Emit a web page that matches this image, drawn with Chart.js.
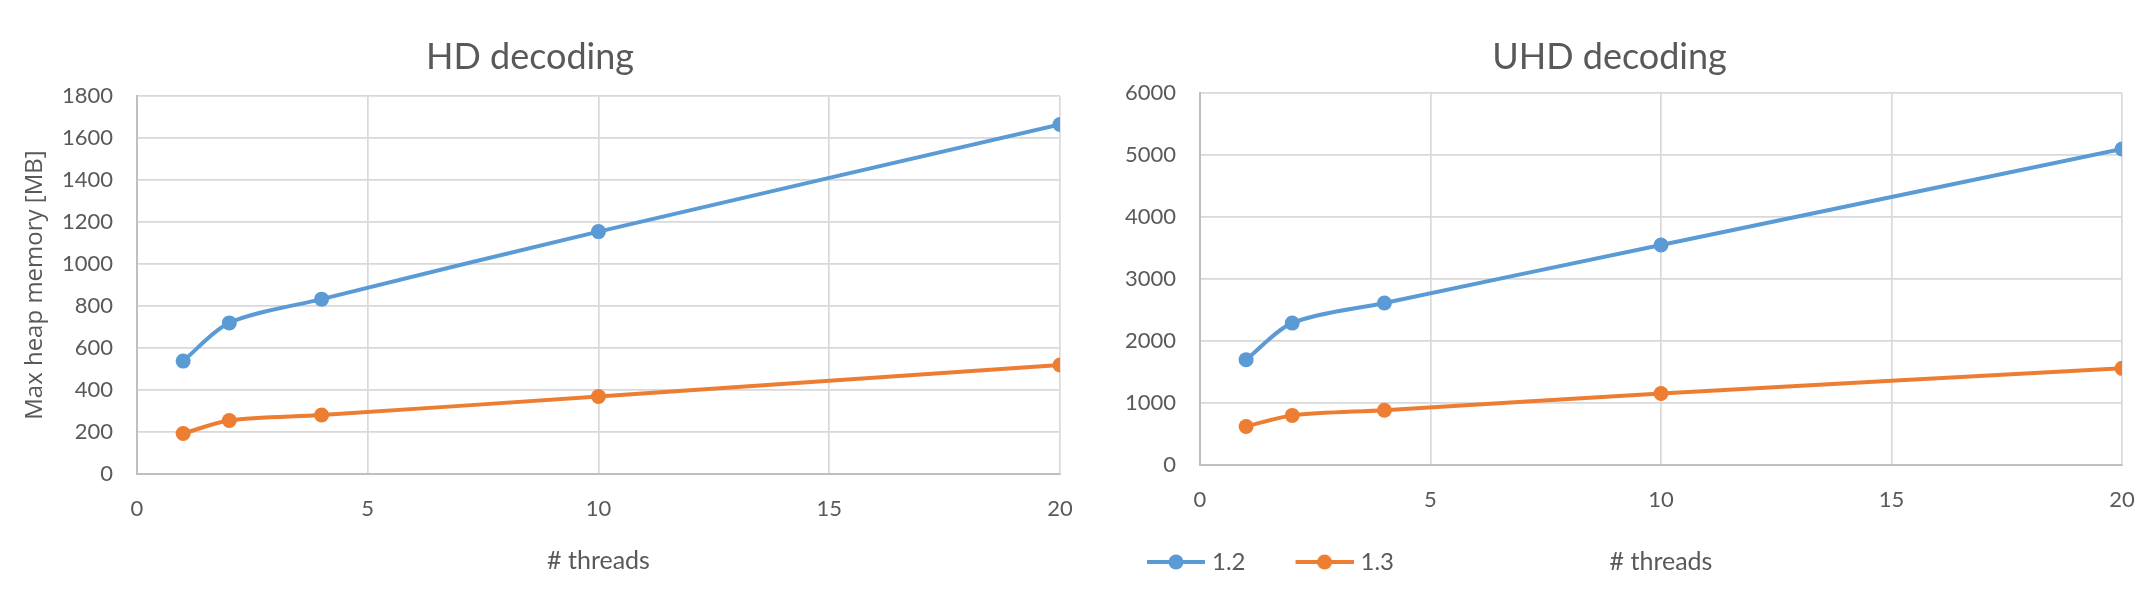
<!DOCTYPE html>
<html>
<head>
<meta charset="utf-8">
<script src="https://cdn.jsdelivr.net/npm/chart.js@4"></script>
<style>
  body { margin: 0; background: #fff; width: 2156px; height: 602px; overflow: hidden; position: relative; }
  canvas { position: absolute; top: 0; }
</style>
</head>
<body>
<canvas id="hdChart" width="1078" height="602" style="left:0"></canvas>
<canvas id="uhdChart" width="1078" height="602" style="left:1078px"></canvas>
<script>
const threads = [1, 2, 4, 10, 20];
const seriesNames = ['1.2', '1.3'];
const hd12 = [538, 720, 833, 1155, 1665];
const hd13 = [193, 255, 281, 369, 519];
const uhd12 = [1700, 2290, 2615, 3550, 5100];
const uhd13 = [622, 800, 884, 1153, 1560];
const xTicks = [0, 5, 10, 15, 20];
const hdYTicks = [0, 200, 400, 600, 800, 1000, 1200, 1400, 1600, 1800];
const uhdYTicks = [0, 1000, 2000, 3000, 4000, 5000, 6000];

const colors = ['#5B9BD5', '#ED7D31'];
const textColor = '#595959';
const gridColor = '#D9D9D9';

// legend icon: line with a round marker (drawn off-centre so the text sits close)
function legendIcon(color) {
  const c = document.createElement('canvas');
  c.width = 83; c.height = 18;
  const g = c.getContext('2d');
  g.strokeStyle = color; g.lineWidth = 4;
  g.beginPath(); g.moveTo(25, 9); g.lineTo(83, 9); g.stroke();
  g.fillStyle = color;
  g.beginPath(); g.arc(54, 9, 7.5, 0, Math.PI * 2); g.fill();
  return c;
}
const icons = colors.map(legendIcon);

function series(values) {
  return threads.map((t, i) => ({ x: t, y: values[i] }));
}

function makeChart(id, title, s12, s13, yTicks, opt) {
  const datasets = [s12, s13].map((vals, i) => ({
    label: seriesNames[i],
    data: series(vals),
    borderColor: colors[i],
    backgroundColor: colors[i],
    pointBackgroundColor: colors[i],
    pointBorderColor: colors[i],
    pointRadius: 7.5,
    pointBorderWidth: 0,
    borderWidth: 4,
    tension: 0.3
  }));

  return new Chart(document.getElementById(id).getContext('2d'), {
    type: 'line',
    data: { datasets },
    options: {
      responsive: false,
      animation: false,
      layout: { padding: opt.padding },
      plugins: {
        title: {
          display: true,
          text: title,
          color: textColor,
          font: { family: 'Lato', size: 36, weight: 'normal' },
          padding: opt.titlePadding
        },
        legend: {
          display: opt.legend,
          position: 'bottom',
          align: 'start',
          labels: {
            usePointStyle: true,
            pointStyleWidth: 73,
            color: textColor,
            font: { family: 'Lato', size: 24 },
            padding: 30,
            generateLabels: (chart) =>
              Chart.defaults.plugins.legend.labels.generateLabels(chart)
                .map((l, i) => ({ ...l, pointStyle: icons[i] }))
          }
        },
        tooltip: { enabled: false }
      },
      scales: {
        x: {
          type: 'linear',
          min: xTicks[0],
          max: xTicks[xTicks.length - 1],
          afterBuildTicks: (s) => { s.ticks = xTicks.map(v => ({ value: v })); },
          ticks: {
            color: textColor, font: { family: 'Lato', size: 22 }, padding: 0,
            callback: (v) => String(v)
          },
          grid: { color: gridColor, lineWidth: 1.7, drawTicks: true, tickLength: 22, tickColor: 'rgba(0,0,0,0)' },
          border: { color: '#BFBFBF', width: 2 },
          title: {
            display: true,
            text: '# threads',
            color: textColor,
            font: { family: 'Lato', size: 25 },
            padding: opt.xTitlePadding
          }
        },
        y: {
          min: yTicks[0],
          max: yTicks[yTicks.length - 1],
          afterBuildTicks: (s) => { s.ticks = yTicks.map(v => ({ value: v })); },
          afterFit: (s) => { s.width = opt.yWidth; },
          ticks: {
            color: textColor, font: { family: 'Lato', size: 22 }, padding: 24,
            callback: (v) => String(v)
          },
          grid: { color: gridColor, lineWidth: 1.7, drawTicks: false },
          border: { color: '#BFBFBF', width: 2 },
          title: {
            display: !!opt.yTitle,
            text: opt.yTitle || '',
            color: textColor,
            font: { family: 'Open Sans', size: 24 },
            padding: { top: 21, bottom: 0 }
          }
        }
      }
    }
  });
}

makeChart('hdChart', 'HD decoding', hd12, hd13, hdYTicks, {
  padding: { left: 0, right: 18, top: 0, bottom: 22 },
  titlePadding: { top: 36, bottom: 17 },
  xTitlePadding: { top: 23.6, bottom: 4 },
  yWidth: 137,
  yTitle: 'Max heap memory [MB]',
  legend: false
});

makeChart('uhdChart', 'UHD decoding', uhd12, uhd13, uhdYTicks, {
  padding: { left: 19, right: 34, top: 0, bottom: 18 },
  titlePadding: { top: 36, bottom: 14 },
  xTitlePadding: { top: 33.6, bottom: -57 },
  yWidth: 103,
  legend: true
});
</script>
</body>
</html>
